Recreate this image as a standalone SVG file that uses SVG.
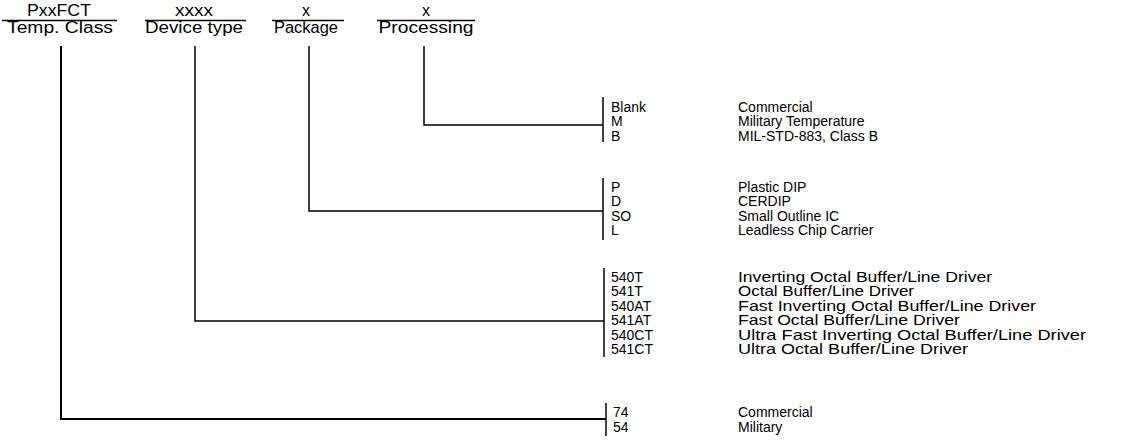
<svg xmlns="http://www.w3.org/2000/svg" width="1123" height="443" viewBox="0 0 1123 443">
<style>
text{font-family:"Liberation Sans",Arial,sans-serif;fill:#000}
.h{font-size:16px;text-anchor:middle}
.t{font-size:14px}
.d{font-size:14.5px}
.ln{stroke:#000;stroke-width:1.5;fill:none}
</style>
<rect width="1123" height="443" fill="#fff"/>
<g id="headers">
<g id="h-temp"><text class="h" x="59" y="16" textLength="64" lengthAdjust="spacingAndGlyphs">PxxFCT</text><line class="ln" x1="2" y1="20.5" x2="117" y2="20.5"/><text class="h" x="60" y="33" textLength="106" lengthAdjust="spacingAndGlyphs">Temp. Class</text></g>
<g id="h-device"><text class="h" x="194" y="16" textLength="38" lengthAdjust="spacingAndGlyphs">xxxx</text><line class="ln" x1="145" y1="20.5" x2="246" y2="20.5"/><text class="h" x="194" y="33" textLength="98" lengthAdjust="spacingAndGlyphs">Device type</text></g>
<g id="h-package"><text class="h" x="306" y="16">x</text><line class="ln" x1="272" y1="20.5" x2="344" y2="20.5"/><text class="h" x="306" y="33" textLength="64" lengthAdjust="spacingAndGlyphs">Package</text></g>
<g id="h-processing"><text class="h" x="426" y="16">x</text><line class="ln" x1="377" y1="20.5" x2="475" y2="20.5"/><text class="h" x="426" y="33" textLength="95" lengthAdjust="spacingAndGlyphs">Processing</text></g>
</g>
<g id="connectors">
<polyline class="ln" points="424,46 424,125 603,125"/>
<polyline class="ln" points="309,46 309,211 603,211"/>
<polyline class="ln" points="195,46 195,321 604,321"/>
<polyline class="ln" points="61,46 61,419 606,419" style="stroke-width:2"/>
</g>
<g id="processing-options">
<line class="ln" x1="603" y1="97" x2="603" y2="142"/>
<text class="t" x="611" y="112">Blank</text><text class="t" x="738" y="112">Commercial</text>
<text class="t" x="611" y="126">M</text><text class="t" x="738" y="126">Military Temperature</text>
<text class="t" x="611" y="141">B</text><text class="t" x="738" y="141">MIL-STD-883, Class B</text>
</g>
<g id="package-options">
<line class="ln" x1="603" y1="178" x2="603" y2="240"/>
<text class="t" x="611" y="192">P</text><text class="t" x="738" y="192">Plastic DIP</text>
<text class="t" x="611" y="206">D</text><text class="t" x="738" y="206">CERDIP</text>
<text class="t" x="611" y="221">SO</text><text class="t" x="738" y="221">Small Outline IC</text>
<text class="t" x="611" y="235">L</text><text class="t" x="738" y="235">Leadless Chip Carrier</text>
</g>
<g id="device-options">
<line class="ln" x1="604" y1="268" x2="604" y2="357"/>
<text class="t" x="611" y="282">540T</text><text class="d" x="738" y="282" textLength="254" lengthAdjust="spacingAndGlyphs">Inverting Octal Buffer/Line Driver</text>
<text class="t" x="611" y="296">541T</text><text class="d" x="738" y="296" textLength="176" lengthAdjust="spacingAndGlyphs">Octal Buffer/Line Driver</text>
<text class="t" x="611" y="311">540AT</text><text class="d" x="738" y="311" textLength="298" lengthAdjust="spacingAndGlyphs">Fast Inverting Octal Buffer/Line Driver</text>
<text class="t" x="611" y="325">541AT</text><text class="d" x="738" y="325" textLength="222" lengthAdjust="spacingAndGlyphs">Fast Octal Buffer/Line Driver</text>
<text class="t" x="611" y="340">540CT</text><text class="d" x="738" y="340" textLength="348" lengthAdjust="spacingAndGlyphs">Ultra Fast Inverting Octal Buffer/Line Driver</text>
<text class="t" x="611" y="354">541CT</text><text class="d" x="738" y="354" textLength="230" lengthAdjust="spacingAndGlyphs">Ultra Octal Buffer/Line Driver</text>
</g>
<g id="temp-options">
<line class="ln" x1="606" y1="403" x2="606" y2="436"/>
<text class="t" x="613" y="417">74</text><text class="t" x="738" y="417">Commercial</text>
<text class="t" x="613" y="432">54</text><text class="t" x="738" y="432">Military</text>
</g>
</svg>
